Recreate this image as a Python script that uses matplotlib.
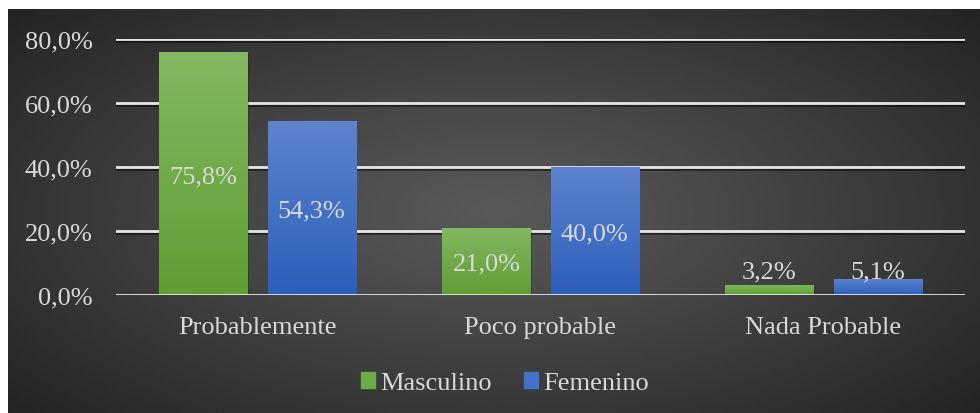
import numpy as np
import matplotlib
matplotlib.use("Agg")
import matplotlib.pyplot as plt
from matplotlib.colors import LinearSegmentedColormap
import matplotlib.patheffects as pe

categories = ["Probablemente", "Poco probable", "Nada Probable"]
masculino = [75.8, 21.0, 3.2]
femenino = [54.3, 40.0, 5.1]
yticks = [0, 20, 40, 60, 80]

plt.rcParams['font.family'] = ['Liberation Serif', 'DejaVu Serif']
txt_color = '#d9d9d9'
fs = 19

fig = plt.figure(figsize=(9.8, 4.14), dpi=100, facecolor='white')

# radial grey backdrop
bg = fig.add_axes([8 / 980, 0, 1 - 8 / 980, 1 - 10 / 414], zorder=-5)
gx, gy = np.meshgrid(np.linspace(-1, 1, 400), np.linspace(-1, 1, 200))
r = np.sqrt(gx ** 2 + (gy * 0.9) ** 2) / np.sqrt(1 + 0.81)
shade = 0.35 - 0.21 * r ** 1.1
bg.imshow(shade, cmap='gray', vmin=0, vmax=1, aspect='auto',
          extent=[0, 1, 0, 1], interpolation='bilinear')
bg.axis('off')

ax = fig.add_axes([116 / 980, 1 - 296 / 414, (965 - 116) / 980, (296 - 40) / 414])
ax.set_facecolor('none')
for s in ax.spines.values():
    s.set_visible(False)

x = np.arange(len(categories))
w = 0.311
off = 0.191

green = LinearSegmentedColormap.from_list('g', ['#5f9e32', '#82b862'])
blue = LinearSegmentedColormap.from_list('b', ['#2c5fbb', '#5d84cd'])
grad = np.linspace(0, 1, 256).reshape(-1, 1)

def gradient_bars(xpos, vals, cmap, face):
    bars = ax.bar(xpos, vals, width=w, color=face, zorder=3)
    for b in bars:
        bx, by = b.get_x(), b.get_y()
        bw, bh = b.get_width(), b.get_height()
        # soft shadow to the lower right
        ax.bar(bx + bw / 2 + 0.006, bh, width=bw, bottom=-0.6, color='black',
               alpha=0.2, zorder=2)
        im = ax.imshow(grad, cmap=cmap, origin='lower', aspect='auto',
                       extent=[bx, bx + bw, by, by + bh], zorder=3.5)
        im.set_clip_path(b)
    return bars

gradient_bars(x - off, masculino, green, '#6fab46')
gradient_bars(x + off, femenino, blue, '#4472c4')

for xi, v in zip(x - off, masculino):
    ax.text(xi, max(v / 2, 8.1), f"{v:.1f}%".replace('.', ','), ha='center',
            va='center_baseline', color=txt_color, fontsize=fs, zorder=5)
for xi, v in zip(x + off, femenino):
    ax.text(xi, max(v / 2, 8.1), f"{v:.1f}%".replace('.', ','), ha='center',
            va='center_baseline', color=txt_color, fontsize=fs, zorder=5)

# gridlines with a faint drop shadow
for yv in yticks:
    ax.axhline(yv, color='#e6e6e6', lw=2.0, zorder=1 if yv else 4,
               path_effects=[pe.SimpleLineShadow(offset=(0, -1.2), alpha=0.5),
                             pe.Normal()])

ax.set_xlim(-0.5, 2.5)
ax.set_ylim(0, 80)
ax.set_yticks(yticks, labels=[f"{t:.1f}%".replace('.', ',') for t in yticks])
ax.set_xticks(x, labels=categories)
ax.tick_params(axis='y', length=0, pad=17, labelsize=fs, labelcolor=txt_color)
ax.tick_params(axis='x', length=0, pad=15, labelsize=fs, labelcolor=txt_color)

h1 = plt.Rectangle((0, 0), 1, 1, color='#6fab46')
h2 = plt.Rectangle((0, 0), 1, 1, color='#4472c4')
fig.legend([h1, h2], ['Masculino', 'Femenino'], loc='center',
           bbox_to_anchor=(505 / 980, 1 - 384 / 414), ncol=2, frameon=False,
           fontsize=fs, labelcolor=txt_color, handlelength=0.55,
           handleheight=0.55, handletextpad=0.2, columnspacing=1.2)

fig.savefig('out.png', dpi=100, facecolor='white')
